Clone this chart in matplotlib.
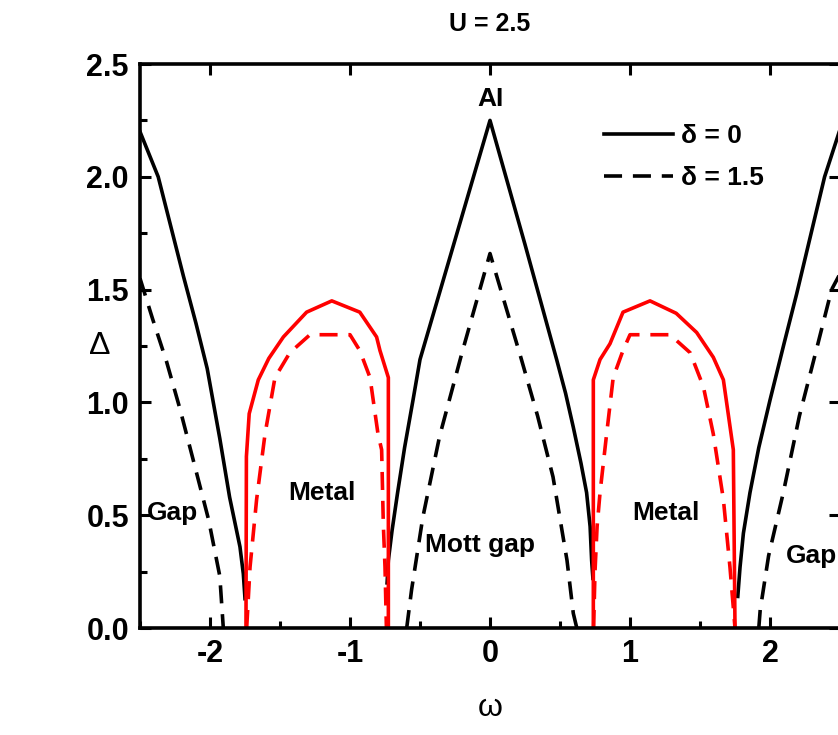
import numpy as np
import matplotlib
matplotlib.use("Agg")
import matplotlib.pyplot as plt
from matplotlib.ticker import MultipleLocator, FormatStrFormatter

plt.rcParams['font.family'] = ['Liberation Sans', 'DejaVu Sans']
plt.rcParams['axes.unicode_minus'] = False

# delta = 0 (solid black), gap branches
x_d0_left = [-2.5, -2.37, -2.28, -2.19, -2.10, -2.02, -1.93, -1.86, -1.786, -1.762, -1.75]
y_d0_left = [2.20, 2.00, 1.78, 1.56, 1.35, 1.15, 0.84, 0.58, 0.36, 0.24, 0.13]
x_d0_mid = [-0.735, -0.726, -0.70, -0.66, -0.61, -0.55, -0.5, -0.25, 0.0, 0.25, 0.476, 0.54, 0.595, 0.65, 0.69, 0.715, 0.726, 0.735]
y_d0_mid = [0.20, 0.30, 0.43, 0.60, 0.80, 1.01, 1.19, 1.72, 2.25, 1.70, 1.19, 1.04, 0.89, 0.73, 0.60, 0.45, 0.30, 0.22]
x_d0_right = [1.77, 1.786, 1.81, 1.857, 1.92, 2.0, 2.10, 2.19, 2.39, 2.5]
y_d0_right = [0.14, 0.27, 0.42, 0.60, 0.80, 1.01, 1.26, 1.48, 2.00, 2.21]

# delta = 1.5 (dashed black), gap branches
x_d15_left = [-2.5, -2.41, -2.31, -2.214, -2.12, -2.01, -1.93, -1.905]
y_d15_left = [1.55, 1.37, 1.18, 0.97, 0.745, 0.48, 0.23, 0.0]
x_d15_mid = [-0.595, -0.56, -0.48, -0.36, -0.2, 0.0, 0.22, 0.34, 0.45, 0.55, 0.595, 0.62]
y_d15_mid = [0.0, 0.17, 0.49, 0.85, 1.22, 1.66, 1.20, 0.94, 0.67, 0.30, 0.065, 0.0]
x_d15_right = [1.92, 1.93, 1.99, 2.095, 2.21, 2.33, 2.44, 2.5]
y_d15_right = [0.0, 0.08, 0.32, 0.60, 0.94, 1.23, 1.50, 1.57]

# metal domes (red)
x_m0_left = [-1.743, -1.74, -1.72, -1.655, -1.58, -1.476, -1.31, -1.13, -0.93, -0.81, -0.786, -0.726, -0.726]
y_m0_left = [0.0, 0.76, 0.95, 1.10, 1.195, 1.29, 1.40, 1.45, 1.40, 1.29, 1.23, 1.11, 0.0]
x_m0_right = [0.738, 0.738, 0.786, 0.857, 0.95, 1.143, 1.33, 1.476, 1.595, 1.667, 1.738, 1.75]
y_m0_right = [0.0, 1.10, 1.19, 1.26, 1.40, 1.45, 1.395, 1.31, 1.20, 1.10, 0.79, 0.0]
x_m15_left = [-1.738, -1.714, -1.667, -1.607, -1.536, -1.43, -1.286, -1.0, -0.93, -0.857, -0.80, -0.774, -0.762, -0.75, -0.74]
y_m15_left = [0.0, 0.27, 0.57, 0.86, 1.11, 1.22, 1.30, 1.30, 1.23, 1.11, 0.86, 0.79, 0.46, 0.27, 0.0]
x_m15_right = [0.74, 0.75, 0.765, 0.786, 0.833, 0.88, 0.95, 1.0, 1.286, 1.43, 1.524, 1.595, 1.667, 1.714, 1.75]
y_m15_right = [0.0, 0.25, 0.45, 0.60, 0.86, 1.11, 1.23, 1.30, 1.30, 1.22, 1.07, 0.86, 0.57, 0.27, 0.0]

lw = 2.6
dash = (0, (5, 3))

fig = plt.figure(figsize=(8.38, 7.35), dpi=100)
# right spine sits just past the image edge, like the reference crop
ax = fig.add_axes([140/838, 107/735, 700/838, 564/735])

ax.plot(x_d0_left, y_d0_left, color='black', lw=lw, label='δ = 0')
ax.plot(x_d0_mid, y_d0_mid, color='black', lw=lw)
ax.plot(x_d0_right, y_d0_right, color='black', lw=lw)
ax.plot(x_d15_left, y_d15_left, color='black', lw=lw, ls=dash, label='δ = 1.5')
ax.plot(x_d15_mid, y_d15_mid, color='black', lw=lw, ls=dash)
ax.plot(x_d15_right, y_d15_right, color='black', lw=lw, ls=dash)

ax.plot(x_m0_left, y_m0_left, color='red', lw=lw)
ax.plot(x_m0_right, y_m0_right, color='red', lw=lw)
ax.plot(x_m15_left, y_m15_left, color='red', lw=lw, ls=dash)
ax.plot(x_m15_right, y_m15_right, color='red', lw=lw, ls=dash)

ax.set_xlim(-2.5, 2.5)
ax.set_ylim(0, 2.5)
ax.xaxis.set_major_locator(MultipleLocator(1))
ax.xaxis.set_minor_locator(MultipleLocator(0.5))
ax.yaxis.set_major_locator(MultipleLocator(0.5))
ax.yaxis.set_minor_locator(MultipleLocator(0.25))
ax.yaxis.set_major_formatter(FormatStrFormatter('%.1f'))

for s in ax.spines.values():
    s.set_linewidth(2.6)
ax.tick_params(which='major', direction='in', length=8, width=2.2, top=True, right=True,
               labelsize=22, pad=8)
ax.tick_params(which='minor', direction='in', length=5, width=2.2, top=False, right=False)
for lab in ax.get_xticklabels() + ax.get_yticklabels():
    lab.set_fontweight('bold')

ax.set_xlabel('ω', fontsize=23)
ax.xaxis.set_label_coords(0.5, -0.115)
ax.set_ylabel('Δ', fontsize=23, rotation=0, va='center', ha='center')
ax.yaxis.set_label_coords(-0.057, 0.5)
ax.set_title('U = 2.5', fontsize=18, fontweight='bold', pad=24)

# region labels
ax.text(0.0, 2.345, 'AI', fontsize=19, fontweight='bold', ha='center', va='center')
ax.text(-2.27, 0.51, 'Gap', fontsize=19, fontweight='bold', ha='center', va='center')
ax.text(-1.2, 0.60, 'Metal', fontsize=19, fontweight='bold', ha='center', va='center')
ax.text(-0.07, 0.37, 'Mott gap', fontsize=19, fontweight='bold', ha='center', va='center')
ax.text(1.26, 0.51, 'Metal', fontsize=19, fontweight='bold', ha='center', va='center')
ax.text(2.11, 0.32, 'Gap', fontsize=19, fontweight='bold', ha='left', va='center')

leg = ax.legend(loc='upper left', bbox_to_anchor=(0.629, 0.936), frameon=False,
                prop={'size': 19, 'weight': 'bold'}, handlelength=2.6,
                handletextpad=0.3, labelspacing=0.68)

fig.savefig('out.png', dpi=100)
